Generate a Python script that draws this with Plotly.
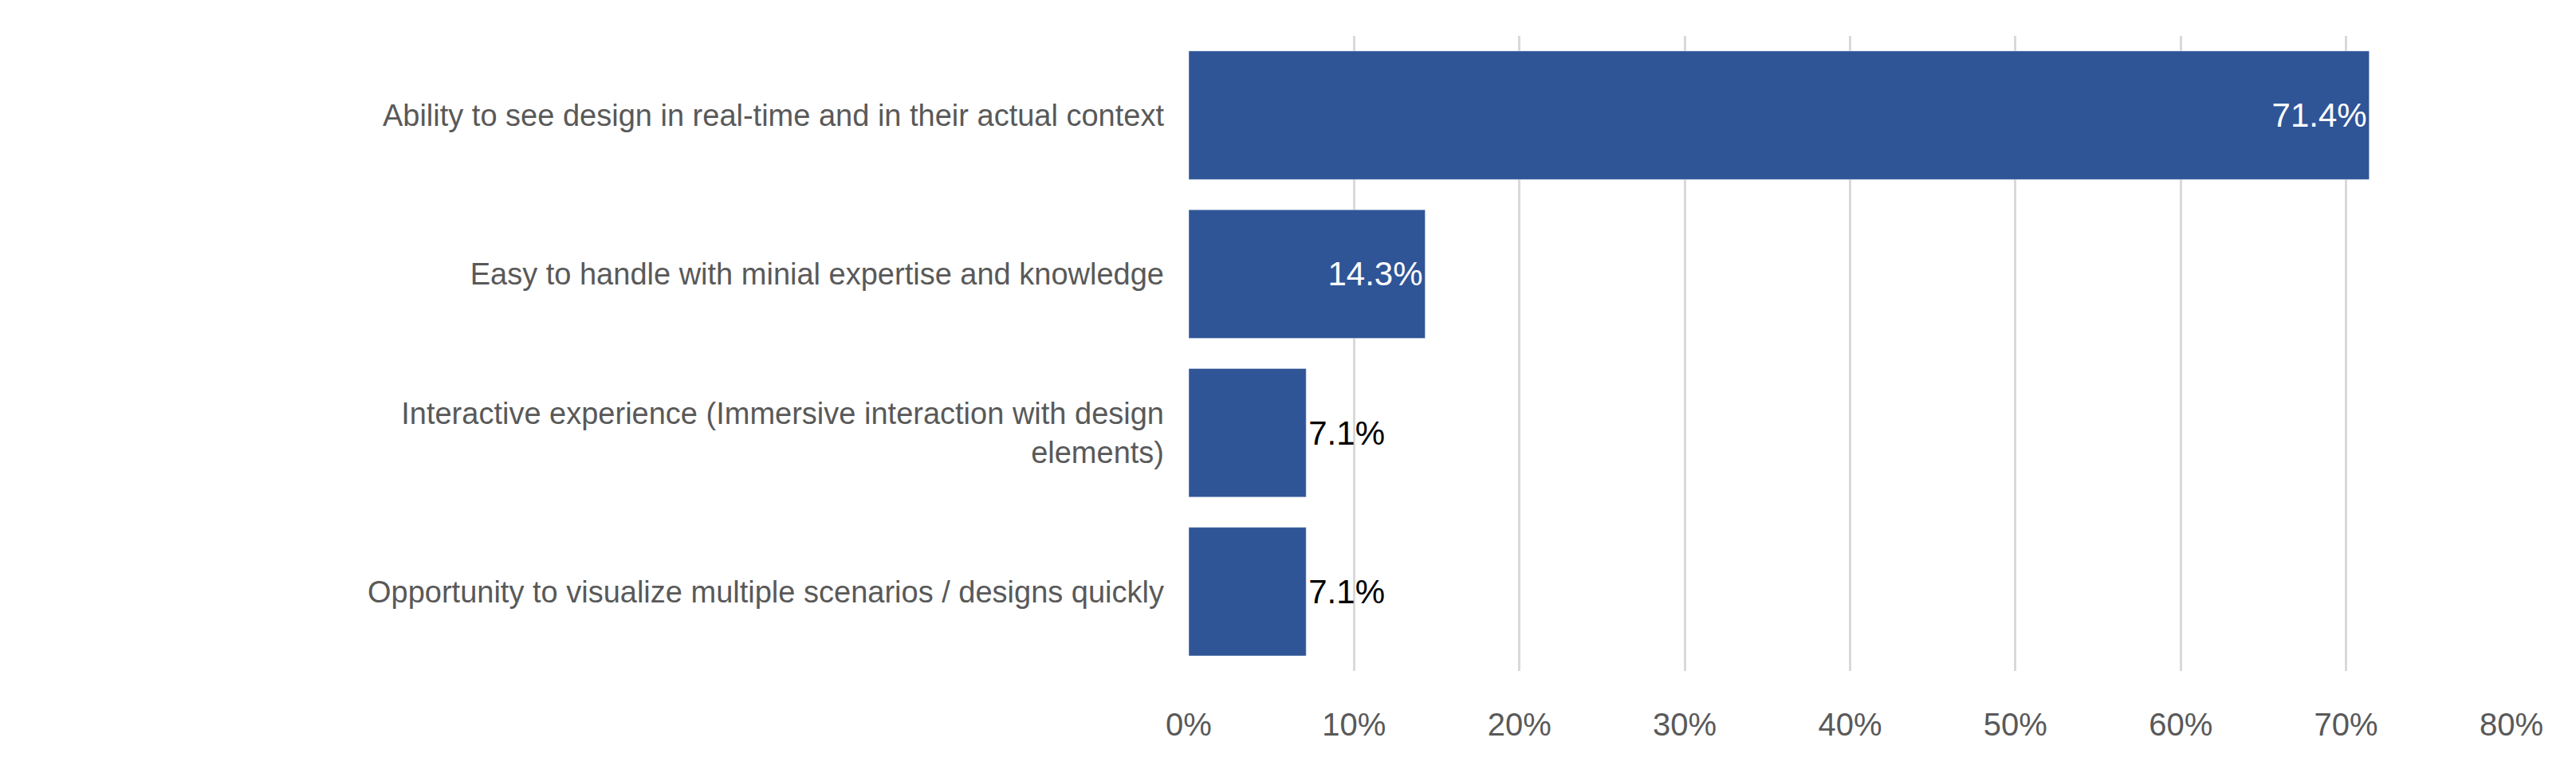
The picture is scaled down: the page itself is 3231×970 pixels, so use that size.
import plotly.graph_objects as go

categories = [
    "Ability to see design in real-time and in their actual context",
    "Easy to handle with minial expertise and knowledge",
    "Interactive experience (Immersive interaction with design<br>elements)",
    "Opportunity to visualize multiple scenarios / designs quickly",
]
values = [0.714, 0.143, 0.071, 0.071]
labels = ["71.4%", "14.3%", "7.1%", "7.1%"]
positions = ["inside", "inside", "outside", "outside"]
tick_vals = [0, 0.1, 0.2, 0.3, 0.4, 0.5, 0.6, 0.7, 0.8]
tick_text = ["0%", "10%", "20%", "30%", "40%", "50%", "60%", "70%", "80%"]

fig = go.Figure(go.Bar(
    y=categories, x=values, orientation="h",
    marker=dict(color="#2F5597"),
    text=labels, textposition=positions,
    insidetextanchor="end",
    insidetextfont=dict(color="white", size=42),
    outsidetextfont=dict(color="black", size=42),
    cliponaxis=False,
))
fig.update_layout(
    width=3231, height=970,
    margin=dict(l=1483, r=89, t=37, b=136),
    paper_bgcolor="white", plot_bgcolor="white",
    font=dict(family="Liberation Sans", size=38, color="#595959"),
    bargap=0.19, showlegend=False,
    xaxis=dict(range=[0, 0.8], tickvals=tick_vals, ticktext=tick_text,
               showgrid=True, gridcolor="#D9D9D9", gridwidth=3,
               zeroline=False, showline=False, ticks="", ticklabelstandoff=40,
               tickfont=dict(size=40)),
    yaxis=dict(autorange="reversed", showgrid=False, ticks="", ticklabelstandoff=30,
               zeroline=False, showline=False),
)
fig.write_html("out.html")
